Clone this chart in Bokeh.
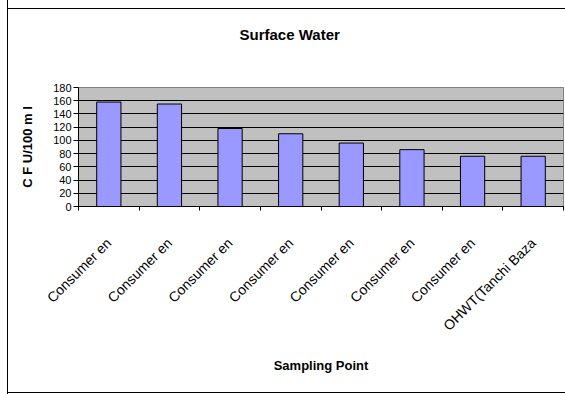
import math

from bokeh.embed import file_html
from bokeh.models import FixedTicker, LinearAxis, Range1d, Title
from bokeh.plotting import figure
from bokeh.resources import INLINE

# Data
sampling_points = [
    "Consumer en", "Consumer en", "Consumer en", "Consumer en",
    "Consumer en", "Consumer en", "Consumer en", "OHWT(Tanchi Baza",
]
cfu_counts = [158, 155, 118, 110, 96, 86, 76, 76]
y_ticks = [0, 20, 40, 60, 80, 100, 120, 140, 160, 180]

title_text = "Surface Water"
x_title = "Sampling Point"
y_title = "C F U/100 m l"

# Layout (pixels)
W, H = 565, 394
LEFT, RIGHT, TOP, BOTTOM = 78, 563, 87, 206
FONT = "Liberation Sans"

n = len(sampling_points)
xs = [i + 0.5 for i in range(n)]

p = figure(
    width=W, height=H,
    x_range=Range1d(0, n), y_range=Range1d(0, y_ticks[-1]),
    output_backend="svg", toolbar_location=None,
    min_border_left=LEFT, min_border_right=W - RIGHT,
    min_border_top=TOP, min_border_bottom=H - BOTTOM,
)
p.background_fill_color = "#C0C0C0"
p.border_fill_color = None
p.outline_line_color = "#808080"
p.outline_line_width = 1
p.title.standoff = 0

# Chart-area border (left, top and bottom edges; right edge lies outside)
p.styles = {
    "background-color": "white",
    "box-shadow": ("inset 7px 0 0 white, inset 8px 0 0 black, "
                   "inset 0 8px 0 white, inset 0 9px 0 black, "
                   "inset 0 -1px 0 white, inset 0 -2px 0 black"),
}

# Title: an empty spacer keeps it clear of the plot area
p.add_layout(Title(text=" ", text_font_size="1px", standoff=42), "above")
p.add_layout(Title(
    text=title_text, align="left", offset=290 - LEFT - 51, standoff=0,
    text_font=FONT, text_font_style="bold", text_font_size="15px",
    text_color="black",
), "above")

# Grid: horizontal lines only
p.xgrid.grid_line_color = None
p.ygrid.grid_line_color = "black"
p.ygrid.grid_line_width = 1
p.ygrid.ticker = FixedTicker(ticks=y_ticks)

# Y axis
p.yaxis.ticker = FixedTicker(ticks=y_ticks)
p.yaxis.minor_tick_line_color = None
p.yaxis.major_tick_in = 0
p.yaxis.major_tick_out = 5
p.yaxis.axis_line_color = "black"
p.yaxis.major_tick_line_color = "black"
p.yaxis.major_label_standoff = 2
p.yaxis.major_label_text_font = FONT
p.yaxis.major_label_text_font_size = "11px"
p.yaxis.major_label_text_color = "black"
p.yaxis.axis_label = y_title
p.yaxis.axis_label_text_font = FONT
p.yaxis.axis_label_text_font_style = "bold"
p.yaxis.axis_label_text_font_size = "13px"
p.yaxis.axis_label_text_color = "black"
p.yaxis.axis_label_standoff = 15

# X axis: tick marks at category boundaries
p.xaxis.ticker = FixedTicker(ticks=list(range(n + 1)))
p.xaxis.minor_tick_line_color = None
p.xaxis.major_tick_in = 0
p.xaxis.major_tick_out = 4
p.xaxis.axis_line_color = "black"
p.xaxis.major_tick_line_color = "black"
p.xaxis.major_label_overrides = {i: "" for i in range(n + 1)}
p.xaxis.major_label_text_font_size = "1px"
p.xaxis.major_label_standoff = 0

# Second x axis carrying the rotated category names and the axis title
names_axis = LinearAxis(
    ticker=FixedTicker(ticks=xs),
    major_label_overrides={x: name for x, name in zip(xs, sampling_points)},
    major_label_orientation=math.pi / 4,
    major_label_standoff=30,
    major_label_text_font=FONT,
    major_label_text_font_size="14px",
    major_label_text_color="black",
    major_tick_in=0, major_tick_out=0,
    minor_tick_line_color=None,
    axis_line_color=None,
    axis_label=x_title,
    axis_label_standoff=16,
    axis_label_text_font=FONT,
    axis_label_text_font_style="bold",
    axis_label_text_font_size="13px",
    axis_label_text_color="black",
)
p.add_layout(names_axis, "below")

# Bars
p.vbar(x=xs, top=cfu_counts, width=0.4, bottom=0,
       fill_color="#9999FF", line_color="black", line_width=1)

open("out.html", "w").write(file_html(p, INLINE))
